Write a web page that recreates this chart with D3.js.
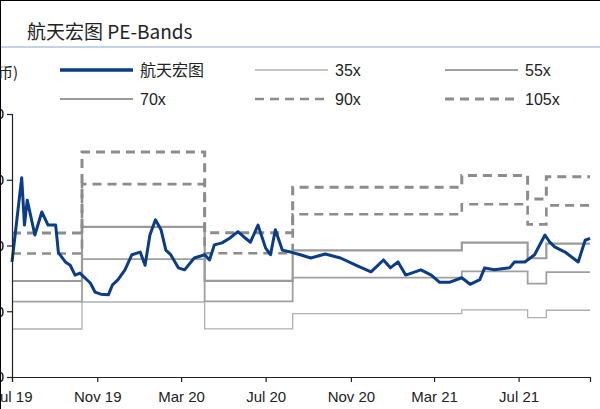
<!DOCTYPE html>
<html><head><meta charset="utf-8">
<script src="https://cdn.jsdelivr.net/npm/d3@7"></script>
<style>body{margin:0;background:#fff}svg{display:block}</style>
</head><body>
<svg id="chart" width="600" height="409"></svg>
<script>
// price series (date, price)
var priceDates = ["2019-07-01","2019-07-15","2019-07-19","2019-07-23","2019-08-03","2019-08-13","2019-08-22","2019-09-02","2019-09-06","2019-09-16","2019-09-23","2019-09-30","2019-10-07","2019-10-14","2019-10-22","2019-10-29","2019-11-06","2019-11-17","2019-11-23","2019-12-01","2019-12-11","2019-12-21","2020-01-02","2020-01-09","2020-01-16","2020-01-24","2020-02-01","2020-02-08","2020-02-15","2020-02-26","2020-03-06","2020-03-20","2020-04-04","2020-04-11","2020-04-18","2020-04-29","2020-05-10","2020-05-22","2020-06-02","2020-06-09","2020-06-20","2020-07-01","2020-07-08","2020-07-15","2020-07-25","2020-08-06","2020-08-20","2020-09-04","2020-09-25","2020-10-17","2020-11-08","2020-11-30","2020-12-18","2020-12-28","2021-01-08","2021-01-19","2021-02-10","2021-02-25","2021-03-09","2021-03-23","2021-04-10","2021-04-22","2021-05-06","2021-05-13","2021-05-27","2021-06-18","2021-06-25","2021-07-10","2021-07-24","2021-08-08","2021-08-15","2021-08-22","2021-09-06","2021-09-25","2021-10-05","2021-10-12"];
var prices = [17.5,30.3,23.1,26.9,21.6,25.1,23.1,23.1,18.9,17.5,17.0,15.5,15.8,15.1,14.3,12.9,12.6,12.5,14.0,14.8,16.3,18.6,19.0,17.0,21.6,23.9,22.4,19.3,18.6,16.6,16.3,18.1,18.6,17.8,20.1,20.4,21.1,22.1,21.1,20.5,23.1,19.6,18.6,22.4,19.3,19.0,18.6,18.1,18.7,18.1,17.0,16.0,17.8,16.6,17.5,15.5,16.3,15.5,14.4,14.4,15.1,14.1,14.8,16.6,16.3,16.6,17.5,17.5,18.6,21.6,20.5,19.8,19.0,17.5,20.8,21.1];

// earnings per share segments used for the bands
var epsDates = ["2019-07-01","2019-10-10","2020-04-04","2020-08-09","2021-04-10","2021-07-14","2021-08-10","2021-10-12"];
var epsValues = [0.2086,0.326,0.209,0.275,0.292,0.258,0.29,0.29];

var multiples = [35,55,70,90,105];
var bandNames = ["35x","55x","70x","90x","105x"];
var xTicks = ["2019-07-01","2019-11-01","2020-03-01","2020-07-01","2020-11-01","2021-03-01","2021-07-01"];
var yTicks = [0,10,20,30,40];

var parse = d3.timeParse("%Y-%m-%d");
var fmt = d3.timeFormat("%b %y");
var svg = d3.select("#chart");

var x = d3.scaleTime().domain([parse("2019-07-01"), parse("2021-10-12")]).range([12, 590]);
var y = d3.scaleLinear().domain([0, 40]).range([377, 114]);

var styles = [
  {c:"#b0b0b0", w:1.3, d:null},
  {c:"#a0a0a0", w:1.8, d:null},
  {c:"#9a9a9a", w:2.2, d:null},
  {c:"#8c8c8c", w:2.6, d:"9,6"},
  {c:"#8c8c8c", w:3, d:"9,6"}
];

// title
svg.append("text").attr("x", 27).attr("y", 39).attr("font-size", 19)
   .attr("font-family", "'Noto Sans CJK SC', 'DejaVu Sans', sans-serif").attr("fill", "#222")
   .text("航天宏图 PE-Bands");
svg.append("line").attr("x1", 0).attr("x2", 600).attr("y1", 47).attr("y2", 47)
   .attr("stroke", "#8aa6c8").attr("stroke-width", 1);
svg.append("rect").attr("x", 0.5).attr("y", 0.5).attr("width", 610).attr("height", 420)
   .attr("fill", "none").attr("stroke", "#000");
svg.append("text").attr("x", 18).attr("y", 78).attr("text-anchor", "end").attr("font-size", 15)
   .attr("font-family", "'Noto Sans CJK SC', sans-serif").attr("fill", "#222").text("(人民币)");

// bands
var bandLine = d3.line().curve(d3.curveStepAfter)
  .x(function(d){ return x(d.date); }).y(function(d){ return y(d.v); });
multiples.forEach(function(m, i){
  var pts = epsDates.map(function(s, j){ return {date: parse(s), v: epsValues[j] * m}; });
  svg.append("path").datum(pts).attr("d", bandLine).attr("fill", "none")
     .attr("stroke", styles[i].c).attr("stroke-width", styles[i].w)
     .attr("stroke-dasharray", styles[i].d);
});

// price
var priceLine = d3.line().x(function(d){ return x(d.date); }).y(function(d){ return y(d.v); });
var pdata = priceDates.map(function(s, i){ return {date: parse(s), v: prices[i]}; });
svg.append("path").datum(pdata).attr("d", priceLine).attr("fill", "none")
   .attr("stroke", "#0b3d86").attr("stroke-width", 3).attr("stroke-linejoin", "round");

// axes
var xa = svg.append("g").attr("transform", "translate(0,377)")
  .call(d3.axisBottom(x).tickValues(xTicks.map(parse)).tickFormat(fmt).tickSizeOuter(0).tickSize(5));
xa.selectAll("text").attr("font-size", 15).attr("font-family", "'Liberation Sans', Arial, sans-serif")
  .attr("fill", "#222").attr("dy", "1.1em");
var ya = svg.append("g").attr("transform", "translate(12,0)")
  .call(d3.axisLeft(y).tickValues(yTicks).tickSizeOuter(0).tickSize(5));
ya.selectAll("text").attr("font-size", 15);
svg.selectAll(".domain, .tick line").attr("stroke", "#222").attr("stroke-width", 1.2);

// legend
var legend = [
  {name:"航天宏图", c:"#0b3d86", w:3.5, d:null, x:60, y:70},
  {name:bandNames[0], c:styles[0].c, w:styles[0].w, d:null, x:255, y:70},
  {name:bandNames[1], c:styles[1].c, w:styles[1].w, d:null, x:445, y:70},
  {name:bandNames[2], c:styles[2].c, w:styles[2].w, d:null, x:60, y:99},
  {name:bandNames[3], c:styles[3].c, w:styles[3].w, d:styles[3].d, x:255, y:99},
  {name:bandNames[4], c:styles[4].c, w:styles[4].w, d:styles[4].d, x:445, y:99}
];
legend.forEach(function(l){
  svg.append("line").attr("x1", l.x).attr("x2", l.x + 73).attr("y1", l.y).attr("y2", l.y)
     .attr("stroke", l.c).attr("stroke-width", l.w).attr("stroke-dasharray", l.d);
  svg.append("text").attr("x", l.x + 80).attr("y", l.y + 6).attr("font-size", 16)
     .attr("font-family", "'Liberation Sans', 'Noto Sans CJK SC', sans-serif").attr("fill", "#222")
     .text(l.name);
});
</script>
</body></html>
